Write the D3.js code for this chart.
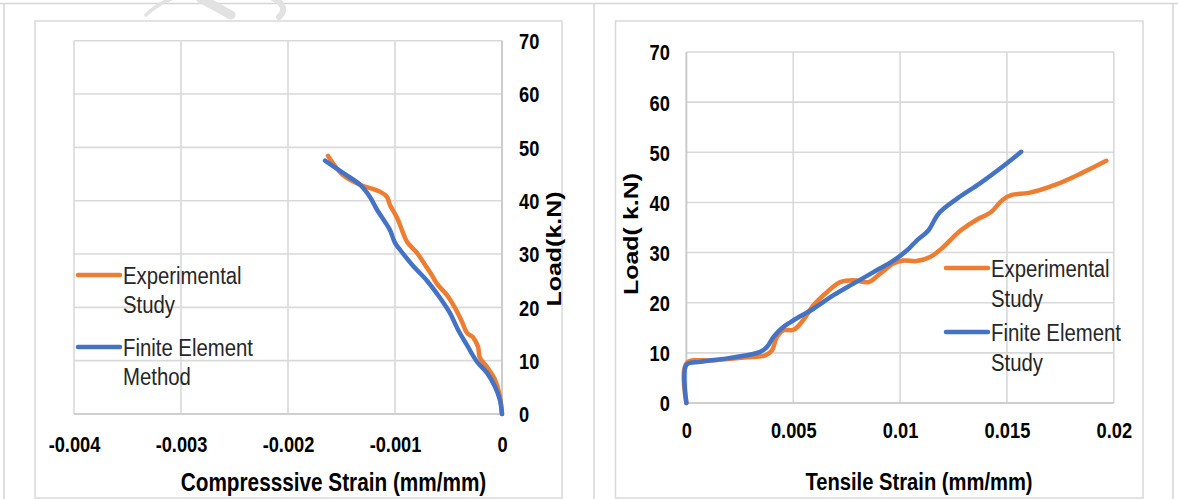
<!DOCTYPE html>
<html>
<head>
<meta charset="utf-8">
<script src="https://cdn.jsdelivr.net/npm/d3@7"></script>
<style>
  html, body { margin: 0; padding: 0; background: #fff; }
  svg { display: block; }
  text { font-family: "Liberation Sans", Arial, sans-serif; }
</style>
</head>
<body>
<svg id="chart" width="1178" height="499"></svg>
<script>
// ---------- data ----------
const compTicks = [-0.004, -0.003, -0.002, -0.001, 0];
const compTickLabels = ["-0.004", "-0.003", "-0.002", "-0.001", "0"];
const tensTicks = [0, 0.005, 0.01, 0.015, 0.02];
const tensTickLabels = ["0", "0.005", "0.01", "0.015", "0.02"];
const loadTicks = [0, 10, 20, 30, 40, 50, 60, 70];

// Left chart: compressive strain vs load
const expCompStrain = [-0.001626, -0.001486, -0.001327, -0.00114, -0.001075, -0.001047, -0.000981, -0.000935, -0.000888, -0.000794, -0.00072, -0.000654, -0.000607, -0.000514, -0.000439, -0.000374, -0.000327, -0.000271, -0.000224, -0.000206, -0.00014, -0.000065, -0.000019, 0];
const expCompLoad   = [48.4, 44.8, 43.0, 41.7, 40.7, 39.2, 36.8, 34.5, 32.3, 30.2, 28.0, 26.0, 24.4, 22.3, 19.9, 17.3, 15.2, 14.4, 12.6, 10.5, 8.8, 6.4, 3.2, 0];
const femCompStrain = [-0.001654, -0.001486, -0.001327, -0.001234, -0.001168, -0.001093, -0.001047, -0.001, -0.000953, -0.000832, -0.000701, -0.00058, -0.000486, -0.000411, -0.000327, -0.000234, -0.00014, -0.000065, -0.000019, 0];
const femCompLoad   = [47.5, 45.2, 43.0, 40.7, 38.3, 36.0, 34.5, 32.1, 30.8, 27.8, 25.0, 21.8, 18.9, 15.8, 12.9, 9.8, 7.7, 5.1, 2.6, 0];

// Right chart: tensile strain vs load
const expTensStrain = [0, 0, 0.001276, 0.002836, 0.003692, 0.004005, 0.004238, 0.004547, 0.005014, 0.005407, 0.005949, 0.006575, 0.007196, 0.007818, 0.008519, 0.009065, 0.009687, 0.010154, 0.01078, 0.011402, 0.012023, 0.012491, 0.01286, 0.01356, 0.01426, 0.01479, 0.01523, 0.01602, 0.01725, 0.01847, 0.01965];
const expTensLoad   = [0, 7.9, 8.5, 9.1, 9.5, 10.5, 13.2, 14.5, 14.6, 16.2, 19.5, 22.1, 24.1, 24.5, 24.1, 25.8, 27.8, 28.4, 28.3, 29.1, 31.1, 33.1, 34.5, 36.5, 38.1, 40.5, 41.5, 41.9, 43.5, 45.8, 48.3];
const femTensStrain = [0, 0, 0.000654, 0.002056, 0.003458, 0.003771, 0.004079, 0.004547, 0.005014, 0.005949, 0.006883, 0.007818, 0.008752, 0.009687, 0.010313, 0.01078, 0.011322, 0.011807, 0.012684, 0.013737, 0.014789, 0.015667];
const femTensLoad   = [0, 7.6, 8.2, 9.0, 10.2, 11.2, 13.2, 15.2, 16.5, 18.8, 21.5, 23.8, 26.1, 28.4, 30.4, 32.4, 34.4, 37.8, 40.8, 43.8, 47.1, 50.1];

const leftLegend  = [["Experimental", "Study"], ["Finite Element", "Method"]];
const rightLegend = [["Experimental", "Study"], ["Finite Element", "Study"]];
const seriesColors = ["#ED7D31", "#4472C4"];

// ---------- drawing ----------
const SX = 0.83; // horizontal text compression
const svg = d3.select("#chart");
const GRID = "#d9d9d9";

// page frame lines
const frame = svg.append("g").attr("stroke", "#d6d6d6").attr("stroke-width", 1.5).attr("fill", "none");
frame.append("line").attr("x1", 0).attr("x2", 1178).attr("y1", 3.5).attr("y2", 3.5);
frame.append("line").attr("x1", 4).attr("x2", 4).attr("y1", 3.5).attr("y2", 499);
frame.append("line").attr("x1", 594).attr("x2", 594).attr("y1", 3.5).attr("y2", 499);
frame.append("line").attr("x1", 1173).attr("x2", 1173).attr("y1", 3.5).attr("y2", 499);

// faint watermark
const wm = svg.append("g").attr("fill", "none").attr("stroke", "#e2e2e2").attr("stroke-linecap", "round");
wm.append("path").attr("d", "M146,15 C153,8 160,3 171,-1").attr("stroke-width", 3.5);
wm.append("path").attr("d", "M200,-2 L231,15").attr("stroke-width", 9);
wm.append("path").attr("d", "M273,-2 C284,3 286,11 279,17").attr("stroke-width", 6);

// chart borders
svg.append("rect").attr("x", 35).attr("y", 21).attr("width", 527).attr("height", 477)
  .attr("fill", "none").attr("stroke", GRID).attr("stroke-width", 1.5);
svg.append("rect").attr("x", 615.5).attr("y", 21).attr("width", 527.5).attr("height", 477)
  .attr("fill", "none").attr("stroke", GRID).attr("stroke-width", 1.5);

function ctext(g, x, y, str, size, weight, anchor, fill) {
  return g.append("text")
    .attr("transform", `translate(${x},${y}) scale(${SX},1)`)
    .attr("font-size", size).attr("font-weight", weight)
    .attr("text-anchor", anchor).attr("fill", fill).text(str);
}
function rtext(g, x, y, str, size) {
  return g.append("text")
    .attr("transform", `translate(${x},${y}) scale(${SX},1) rotate(-90)`)
    .attr("font-size", size).attr("font-weight", "bold")
    .attr("text-anchor", "middle").attr("dy", "0.36em").attr("fill", "#000").text(str);
}

function drawChart(cfg) {
  const g = svg.append("g");
  const x = cfg.x, y = cfg.y;
  // grid
  g.append("g").selectAll("line").data(cfg.xTicks).join("line")
    .attr("x1", d => x(d)).attr("x2", d => x(d))
    .attr("y1", y(70)).attr("y2", y(0))
    .attr("stroke", GRID).attr("stroke-width", 1.6);
  g.append("g").selectAll("line").data(loadTicks).join("line")
    .attr("x1", x.range()[0]).attr("x2", x.range()[1])
    .attr("y1", d => y(d)).attr("y2", d => y(d))
    .attr("stroke", GRID).attr("stroke-width", 1.6);
  // axis lines
  g.append("line").attr("x1", x.range()[0]).attr("x2", x.range()[1])
    .attr("y1", y(0)).attr("y2", y(0)).attr("stroke", "#c8c8c8").attr("stroke-width", 1.6);
  g.append("line").attr("x1", x(0)).attr("x2", x(0))
    .attr("y1", y(70)).attr("y2", y(0)).attr("stroke", "#c8c8c8").attr("stroke-width", 1.6);

  // x axis labels
  const xa = g.append("g").attr("transform", `translate(0,${y(0)})`)
    .call(d3.axisBottom(x).tickValues(cfg.xTicks)
      .tickFormat((d, i) => cfg.xLabels[i]).tickSize(0).tickPadding(0));
  xa.select(".domain").remove();
  xa.selectAll("text").attr("y", cfg.xLabelOff).attr("dy", "0.36em")
    .attr("transform", `scale(${SX},1)`)
    .attr("font-size", 22).attr("font-weight", "bold").attr("fill", "#000")
    .attr("font-family", '"Liberation Sans", Arial, sans-serif');

  // y axis labels
  const axisY = cfg.yRight ? d3.axisRight(y) : d3.axisLeft(y);
  const ya = g.append("g").attr("transform", `translate(${x(0)},0)`)
    .call(axisY.tickValues(loadTicks).tickFormat(d3.format("d")).tickSize(0).tickPadding(0));
  ya.select(".domain").remove();
  ya.selectAll("text").attr("x", cfg.yLabelOff / SX).attr("dy", "0.36em")
    .attr("transform", `scale(${SX},1)`)
    .attr("text-anchor", cfg.yRight ? "start" : "end")
    .attr("font-size", 22).attr("font-weight", "bold").attr("fill", "#000")
    .attr("font-family", '"Liberation Sans", Arial, sans-serif');

  // series
  const line = d3.line().x(d => x(d[0])).y(d => y(d[1])).curve(d3.curveCatmullRom.alpha(0.5));
  cfg.series.forEach((s, i) => {
    const pts = s.xs.map((v, k) => [v, s.ys[k]]);
    g.append("path").attr("d", line(pts)).attr("fill", "none")
      .attr("stroke", seriesColors[i]).attr("stroke-width", 4.5)
      .attr("stroke-linecap", "round").attr("stroke-linejoin", "round");
  });

  // legend
  cfg.legend.forEach((lines, i) => {
    const ly = cfg.legendY[i];
    g.append("line").attr("x1", cfg.legendX).attr("x2", cfg.legendX + 42)
      .attr("y1", ly).attr("y2", ly).attr("stroke", seriesColors[i])
      .attr("stroke-width", 4.5).attr("stroke-linecap", "round");
    lines.forEach((t, j) => {
      ctext(g, cfg.legendX + 45, ly + 8.7 + j * cfg.legendLine, t, 24.5, "normal", "start", "#262626");
    });
  });

  // titles
  ctext(g, cfg.xTitlePos[0], cfg.xTitlePos[1], cfg.xTitle, cfg.titleSize, "bold", "middle", "#000");
  rtext(g, cfg.yTitlePos[0], cfg.yTitlePos[1], cfg.yTitle, 25);
}

drawChart({
  x: d3.scaleLinear().domain([-0.004, 0]).range([74, 502]),
  y: d3.scaleLinear().domain([0, 70]).range([414, 40.7]),
  xTicks: compTicks, xLabels: compTickLabels, xLabelOff: 30,
  yRight: true, yLabelOff: 17,
  series: [{ xs: expCompStrain, ys: expCompLoad }, { xs: femCompStrain, ys: femCompLoad }],
  legend: leftLegend, legendX: 78, legendY: [275, 347], legendLine: 29,
  xTitle: "Compresssive Strain (mm/mm)", xTitlePos: [333.5, 491], titleSize: 25,
  yTitle: "Load(k.N)", yTitlePos: [554, 249]
});

drawChart({
  x: d3.scaleLinear().domain([0, 0.02]).range([686.4, 1113.8]),
  y: d3.scaleLinear().domain([0, 70]).range([403, 52]),
  xTicks: tensTicks, xLabels: tensTickLabels, xLabelOff: 27,
  yRight: false, yLabelOff: -16.5,
  series: [{ xs: expTensStrain, ys: expTensLoad }, { xs: femTensStrain, ys: femTensLoad }],
  legend: rightLegend, legendX: 946, legendY: [268, 332], legendLine: 30,
  xTitle: "Tensile Strain (mm/mm)", xTitlePos: [919, 490], titleSize: 24.3,
  yTitle: "Load( k.N)", yTitlePos: [631, 234]
});
</script>
</body>
</html>
